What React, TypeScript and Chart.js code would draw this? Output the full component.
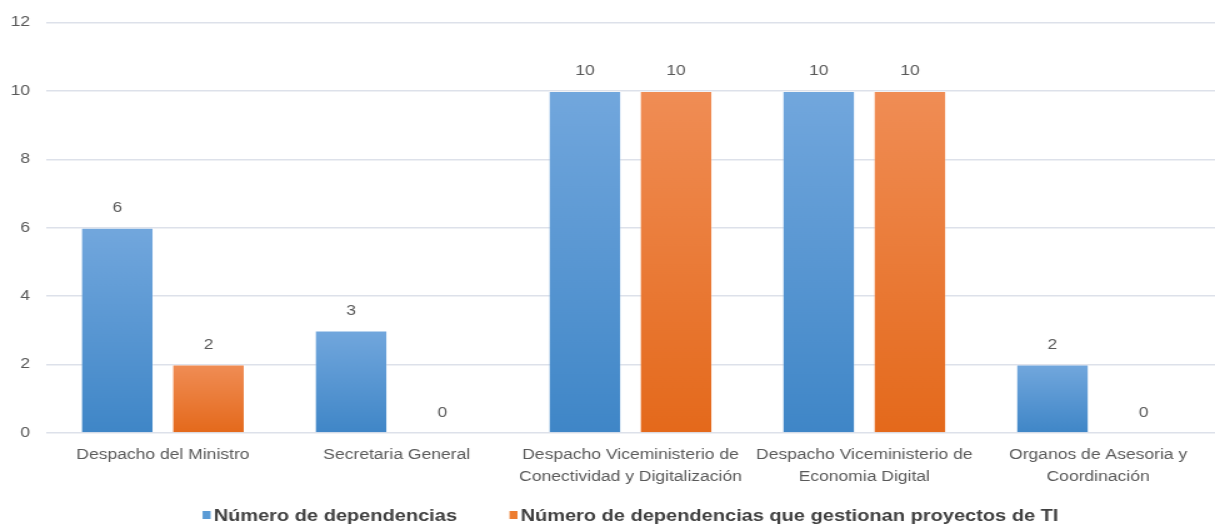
import React, { useEffect, useRef } from "react";
import { Chart, registerables } from "chart.js";

Chart.register(...registerables);

const categories: (string | string[])[] = [
  "Despacho del Ministro",
  "Secretaria General",
  ["Despacho Viceministerio de", "Conectividad y Digitalización"],
  ["Despacho Viceministerio de", "Economia Digital"],
  ["Organos de Asesoria y", "Coordinación"],
];
const dependencias = [6, 3, 10, 10, 2];
const dependenciasTI = [2, 0, 10, 10, 0];
const seriesNames = ["Número de dependencias", "Número de dependencias que gestionan proyectos de TI"];
const yTicks = [0, 2, 4, 6, 8, 10, 12];

const FONT = "'Liberation Sans', Arial, sans-serif";
const blueTop = "#72a7dd";
const blueBottom = "#3f86c7";
const orangeTop = "#f08d55";
const orangeBottom = "#e4691b";
const blueSolid = "#5b9bd5";
const orangeSolid = "#ed7d31";

// the reference image is horizontally stretched: draw narrower, display wider
const DRAW_W = 972;
const SHOW_W = 1215;
const H = 525;

function gradientFor(top: string, bottom: string, solid: string) {
  return (ctx: any) => {
    const chart = ctx.chart;
    const yScale = chart.scales && chart.scales.y;
    if (!chart.chartArea || !yScale || ctx.type !== "data") return solid;
    const v = ctx.raw as number;
    const yTop = yScale.getPixelForValue(v);
    const yBase = yScale.getPixelForValue(0);
    if (!isFinite(yTop) || !isFinite(yBase) || yBase - yTop < 1) return solid;
    const g = chart.ctx.createLinearGradient(0, yTop, 0, yBase);
    g.addColorStop(0, top);
    g.addColorStop(1, bottom);
    return g;
  };
}

const valueLabels = {
  id: "valueLabels",
  afterDatasetsDraw(chart: any) {
    const ctx = chart.ctx;
    ctx.save();
    ctx.font = `14px ${FONT}`;
    ctx.fillStyle = "#595959";
    ctx.textAlign = "center";
    ctx.textBaseline = "middle";
    chart.data.datasets.forEach((ds: any, i: number) => {
      const meta = chart.getDatasetMeta(i);
      meta.data.forEach((el: any, j: number) => {
        ctx.fillText(String(ds.data[j]), el.x, el.y - 19.5);
      });
    });
    ctx.restore();
  },
};

const bottomLegend = {
  id: "bottomLegend",
  afterDraw(chart: any) {
    const ctx = chart.ctx;
    const area = chart.chartArea;
    ctx.save();
    ctx.font = `bold 16px ${FONT}`;
    const colors = [blueSolid, orangeSolid];
    const boxW = 6.4;
    const boxH = 8;
    const gapBox = 2.4;
    const gapItem = 42;
    const widths = chart.data.datasets.map((ds: any) => ctx.measureText(ds.label).width);
    const total =
      widths.reduce((a: number, w: number) => a + boxW + gapBox + w, 0) + gapItem * (widths.length - 1);
    let x = (area.left + area.right) / 2 - total / 2;
    const baseline = 521;
    chart.data.datasets.forEach((ds: any, i: number) => {
      ctx.fillStyle = colors[i];
      ctx.fillRect(x, baseline - 10, boxW, boxH);
      x += boxW + gapBox;
      ctx.fillStyle = "#404040";
      ctx.textAlign = "left";
      ctx.textBaseline = "alphabetic";
      ctx.fillText(ds.label, x, baseline);
      x += widths[i] + gapItem;
    });
    ctx.restore();
  },
};

export default function App() {
  const ref = useRef<HTMLCanvasElement | null>(null);
  useEffect(() => {
    if (!ref.current) return;
    const chart = new Chart(ref.current, {
      type: "bar",
      data: {
        labels: categories,
        datasets: [
          {
            label: seriesNames[0],
            data: dependencias,
            backgroundColor: gradientFor(blueTop, blueBottom, blueSolid),
            borderColor: "rgba(255,255,255,0.25)",
            borderWidth: 1,
            categoryPercentage: 0.78,
            barPercentage: 0.8,
          },
          {
            label: seriesNames[1],
            data: dependenciasTI,
            backgroundColor: gradientFor(orangeTop, orangeBottom, orangeSolid),
            borderColor: "rgba(255,255,255,0.25)",
            borderWidth: 1,
            categoryPercentage: 0.78,
            barPercentage: 0.8,
          },
        ],
      },
      options: {
        animation: false,
        responsive: false,
        devicePixelRatio: 1,
        layout: { padding: { top: 22.5, left: 0, right: 0, bottom: 34 } },
        scales: {
          x: {
            grid: { display: false },
            border: { display: false },
            ticks: {
              color: "#595959",
              font: { size: 14, family: FONT, lineHeight: 1.57 },
              maxRotation: 0,
              autoSkip: false,
              padding: 3,
            },
          },
          y: {
            min: 0,
            max: 12,
            afterBuildTicks: (axis: any) => {
              axis.ticks = yTicks.map((v) => ({ value: v }));
            },
            afterFit: (axis: any) => {
              axis.width = 36.8;
            },
            grid: { color: "#dde1ea", lineWidth: 1.5, drawTicks: false },
            border: { display: false },
            ticks: {
              color: "#595959",
              font: { size: 14, family: FONT },
              padding: 12.8,
            },
          },
        },
        plugins: {
          tooltip: { enabled: false },
          legend: { display: false },
        },
      },
      plugins: [valueLabels, bottomLegend],
    });
    return () => chart.destroy();
  }, []);
  return (
    <div style={{ position: "fixed", left: 0, top: 0, width: SHOW_W, height: H, background: "#fff" }}>
      <canvas ref={ref} width={DRAW_W} height={H} style={{ width: SHOW_W, height: H, display: "block" }} />
    </div>
  );
}
